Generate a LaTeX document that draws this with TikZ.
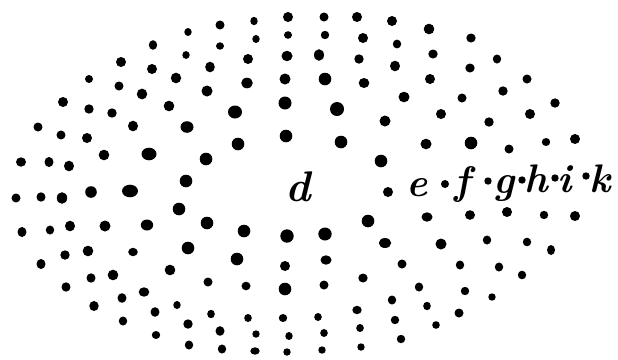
\documentclass[tikz,border=0pt]{standalone}
\begin{document}
\begin{tikzpicture}[x=1bp,y=-1bp,
  letter/.style={inner sep=0pt,anchor=base,font=\fontsize{40}{40}\selectfont\bfseries\itshape},
  bigletter/.style={letter,font=\fontsize{43}{43}\selectfont\bfseries\itshape}]
\useasboundingbox (0,0) rectangle (618,359);
\foreach \x/\y/\a/\b in {
 288/17/5/5, 254/21/3.7/4.2, 220/25/4.5/4.5, 188/32/3.7/4, 288/35/4/3.8, 256/39/3.7/4, 220/46/4/3.7,
 153/45/4.2/4.8, 186/55/3.7/3.9, 287/56/5.5/5.2, 248/59/5/5, 121/62/5/5, 152/69/5/5, 210/67/4.8/5.3,
 176/78/5.2/5.3, 285/79/5.5/5.5, 247/83/5.8/5.3, 89/79/4/4, 119/86/4.5/4.5, 142/94/5.2/5.4, 207/91/5.5/5.5,
 63/102/5/5, 89/109/4.7/4.7, 112/113/4.7/4.7, 169/106/5.3/5.3, 235/112/7/6.5, 285/103/6.5/6.5,
 38/127/4.5/4.5, 61/135/4.5/4.5, 87/138/5/5, 133/126/5/5.3, 187/127/6.5/5.8, 286/136/6.3/6.3, 238/144/6.3/6.3,
 21/162/5/4.7, 49/162/4.5/5, 69/166/5/5.3, 104/155/5.3/5.3, 149/154/7.5/6.3, 206/159/6.3/6.3,
 324/17/4.5/4.5, 357/17/5/5, 392/21/5/5, 429/29/5.3/5.3, 471/38/4.7/4.5, 325/35/4.2/4.2, 363/38/5/5,
 397/44/4.2/4.4, 433/54/4.7/4.5, 497/59/4.2/4.5, 319/55/5/5.8, 359/59/4.7/4.7, 395/66/5/5.3, 470/68/4.7/4.5,
 527/79/4.5/4.5, 325/79/6.3/6.3, 364/83/5.3/5, 430/79/5/5, 503/91/4.7/4.7, 404/97/5.5/5.3, 462/98/4.5/4.5,
 555/103/4.7/4.7, 337/109/7/7, 385/121/5.5/5.5, 441/114/5/5, 489/122/4.7/4.7, 530/114/5/5,
 341/142/6.3/6.3, 426/144/5.5/5.3, 471/143/6.3/6.3, 509/149/4.5/4.5, 546/142/4.2/4, 575/139/5/5, 381/161/6.3/6.3,
 16/198/4.5/4.5, 41/197/4.5/4.7, 62/198/5.2/5.8, 91/192/5.8/5.8, 130/191/8/6.3, 186/181/6.3/6.3, 179/209/6.3/6.3,
 22/232/4.5/5, 50/230/4.2/4.5, 70/226/5/5.3, 105/226/5.5/5.5, 147/225/6.2/5.5, 207/223/6.3/6.3, 244/231/6.3/6.3,
 287/236/6.7/6.7, 41/264/4.5/5, 65/255/4.7/4.7, 88/251/5.3/5.3, 133/252/4.8/4.2, 188/248/6.3/6.3, 237/259/6.3/6.3,
 285/266/5/5, 66/287/4.5/4.7, 91/278/4.5/4.7, 113/275/5.3/5.3, 170/270/5.3/5.3, 208/282/4.5/4.5, 246/286/4.5/4.3,
 285/289/6.3/6.3, 94/306/4.7/5, 122/298/4.5/4.8, 144/292/5.3/4.7, 177/305/3.7/4, 211/314/3.8/4.2, 248/318/3.8/4,
 283/318/4.2/4, 123/321/4.2/4.5, 155/312/4.5/4.8, 188/324/4.7/4.7, 220/331/4.5/4.8, 256/334/3.7/3.7, 289/336/3.7/4,
 156/335/4.2/4, 189/345/4.2/4.5, 222/349/4.2/4.5, 255/351/4.7/3.7, 287/352/3.7/3.7,
 388/192/5/5, 368/221/6.3/6.3, 427/217/5.5/4.7, 470/215/5/4.8, 507/212/5/5, 544/215/4.2/4.2, 575/216/5/5,
 325/234/6.7/6.5, 385/243/6.2/5, 441/244/5.5/5.5, 487/240/4.2/4.5, 527/242/4.2/4.3, 551/250/4/5,
 326/260/5.5/4.7, 402/264/4.5/4.5, 460/265/4.2/4.5, 499/267/4.2/4.5, 522/275/4.2/4.3,
 324/285/4.5/4.5, 363/278/4.7/4.5, 419/287/4.2/4.5, 465/291/4.2/4.2, 492/297/3.7/3.7,
 318/317/3.8/4, 357/310/4.7/4.2, 392/300/4.2/4.5, 427/306/3.8/4.2, 459/313/4.5/4.5,
 324/333/3.8/4, 360/328/3.8/4, 395/320/4.2/4.2, 436/325/3.8/3.8,
 322/350/3.7/3.7, 361/347/3.7/3.7, 401/339/4.2/4.2,
 445/184/4/4, 488/181/3.7/3.7, 522/180/3.7/3.7, 555/178/3.7/3.7, 586/176/3.7/3.7}
 \fill (\x,\y) ellipse [x radius={\a bp}, y radius={\b bp}];
\node[bigletter] (d) at (298,201) {d};
\node[letter] (e) at (417,196) {e};
\node[letter] (f) at (462,194) {f};
\node[letter] (g) at (504,193) {g};
\node[letter] (h) at (536,192) {h};
\node[letter] (i) at (565,192) {i};
\node[letter] (k) at (600,192) {k};
\end{tikzpicture}
\end{document}
